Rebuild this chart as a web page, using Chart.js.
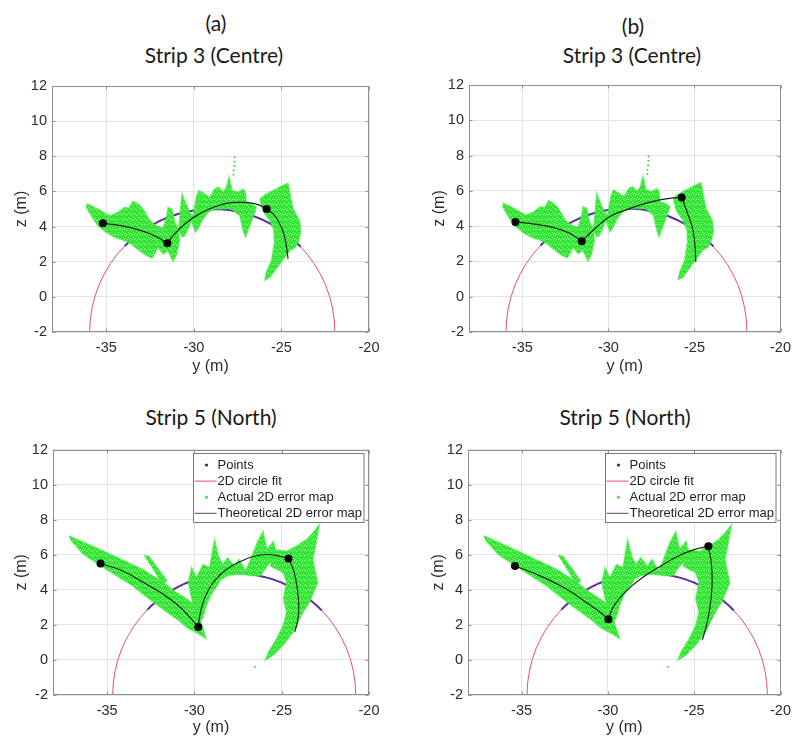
<!DOCTYPE html>
<html>
<head>
<meta charset="utf-8">
<script src="https://cdn.jsdelivr.net/npm/chart.js@4.4.1/dist/chart.umd.min.js"></script>
<style>
  html, body { margin: 0; padding: 0; background: #fff; }
  #page { position: relative; width: 798px; height: 740px; overflow: hidden; background: #fff; }
  #page canvas { position: absolute; }
  .title { position: absolute; width: 240px; text-align: center; font-family: Lato, "Noto Sans", sans-serif;
           font-size: 21px; line-height: 26px; color: #1a1a1a; white-space: nowrap; }
</style>
</head>
<body>
<div id="page">
  <div class="title" style="left:96px; top:10px;">(a)</div>
  <div class="title" style="left:513px; top:13px;">(b)</div>
  <div class="title" style="left:94px; top:42px;">Strip 3 (Centre)</div>
  <div class="title" style="left:512px; top:42px;">Strip 3 (Centre)</div>
  <div class="title" style="left:91px; top:404px;">Strip 5 (North)</div>
  <div class="title" style="left:505px; top:404px;">Strip 5 (North)</div>
  <canvas id="chartA" width="399" height="310" style="left:0; top:70px;"></canvas>
  <canvas id="chartB" width="399" height="310" style="left:399px; top:70px;"></canvas>
  <canvas id="chartC" width="399" height="304" style="left:0; top:436px;"></canvas>
  <canvas id="chartD" width="399" height="304" style="left:399px; top:436px;"></canvas>
</div>
<script>
// axes
const yTickValues = [-35, -30, -25, -20];
const zTickValues = [-2, 0, 2, 4, 6, 8, 10, 12];
const yRange = [-38.1, -20];
const zRange = [-2, 12];

const legendLabels = ['Points', '2D circle fit', 'Actual 2D error map', 'Theoretical 2D error map'];

// 2D circle fits: [centre y, centre z, radius]
const strip3CircleFit = [-28.95, -2, 7];
const strip5CircleFit = [-27.72, -2, 6.96];

// points lying on the fitted circle (y, z)
const strip3Points = [
  [-33.95, 2.90], [-33.5, 3.32], [-33.0, 3.71], [-32.5, 4.03], [-32.0, 4.30], [-31.5, 4.52],
  [-31.0, 4.69], [-30.5, 4.83], [-30.0, 4.92], [-29.5, 4.98], [-29.0, 5.00], [-28.5, 4.99],
  [-28.0, 4.94], [-27.5, 4.85], [-27.0, 4.72], [-26.5, 4.56], [-26.0, 4.35], [-25.5, 4.09],
  [-25.0, 3.78], [-24.5, 3.40], [-24.0, 2.95], [-23.9, 2.85]
];
const strip5Points = [
  [-32.7, 2.86], [-32.5, 3.06], [-32.0, 3.49], [-31.5, 3.84], [-31.0, 4.14], [-30.5, 4.38],
  [-30.0, 4.58], [-29.5, 4.73], [-29.0, 4.84], [-28.5, 4.92], [-28.0, 4.95], [-27.5, 4.96],
  [-27.0, 4.92], [-26.5, 4.85], [-26.0, 4.74], [-25.5, 4.60], [-25.0, 4.41], [-24.5, 4.17],
  [-24.0, 3.88], [-23.5, 3.53], [-23.0, 3.11], [-22.7, 2.82]
];

// actual 2D error map, outlines of the point clouds (y, z)
const strip3ErrorMap = [
  [[-36.14, 5.32], [-35.48, 5.0], [-34.81, 4.62], [-34.33, 4.81], [-33.95, 5.10], [-33.70, 5.05],
   [-33.48, 5.44], [-33.19, 5.29], [-32.90, 5.0], [-32.52, 4.34], [-32.14, 4.05], [-31.76, 3.92],
   [-31.55, 4.60], [-31.48, 5.10], [-31.25, 5.0], [-31.10, 4.24], [-30.90, 3.92], [-30.81, 3.20],
   [-31.0, 2.35], [-31.19, 2.02], [-31.48, 2.63], [-31.76, 2.44], [-32.05, 2.82], [-32.24, 2.44],
   [-32.39, 2.21], [-32.71, 2.35], [-33.10, 2.63], [-33.57, 3.01], [-33.95, 3.20], [-34.52, 3.39],
   [-35.0, 3.67], [-35.48, 4.05], [-35.86, 4.62], [-36.14, 5.10]],
  [[-30.87, 3.77], [-30.75, 5.10], [-30.68, 5.86], [-30.49, 5.38], [-30.24, 4.81], [-30.05, 4.62],
   [-29.86, 5.67], [-29.72, 6.05], [-29.38, 5.86], [-29.10, 5.67], [-28.81, 6.14], [-28.58, 6.24],
   [-28.33, 5.95], [-28.14, 6.24], [-27.99, 6.84], [-27.82, 6.05], [-27.48, 5.95], [-27.19, 6.14],
   [-27.06, 5.95], [-27.0, 5.38], [-26.71, 5.29], [-26.43, 5.10], [-26.52, 4.81], [-26.81, 4.05],
   [-27.06, 3.39], [-27.19, 3.77], [-27.38, 4.62], [-27.86, 5.0], [-28.43, 5.0], [-28.81, 5.0],
   [-29.19, 4.81], [-29.48, 4.43], [-29.67, 4.05], [-29.91, 3.67], [-30.14, 4.34], [-30.33, 3.86],
   [-30.52, 3.48], [-30.71, 3.39]],
  [[-26.24, 5.57], [-25.86, 5.86], [-25.48, 6.05], [-25.10, 6.24], [-24.81, 6.39], [-24.62, 6.46],
   [-24.47, 5.67], [-24.33, 5.0], [-23.95, 4.30], [-23.90, 3.70], [-24.01, 3.20], [-24.20, 2.82],
   [-24.52, 2.63], [-24.81, 2.25], [-25.10, 1.87], [-25.38, 1.49], [-25.67, 1.11], [-25.95, 0.96],
   [-25.86, 1.40], [-25.57, 2.06], [-25.48, 2.63], [-25.38, 3.20], [-25.42, 3.77], [-25.67, 4.34],
   [-25.95, 4.72], [-26.14, 5.10]]
];
const strip3Outliers = [[-27.67, 7.95], [-27.68, 7.7], [-27.7, 7.45], [-27.72, 7.2], [-27.74, 6.95]];

const strip5ErrorMap = [
  [[-37.20, 7.09], [-35.60, 6.39], [-34.10, 5.70], [-32.97, 5.17], [-32.22, 4.70], [-31.66, 4.33],
   [-31.10, 3.89], [-30.44, 3.48], [-29.97, 3.11], [-29.32, 1.23], [-29.78, 1.51], [-30.35, 1.79],
   [-30.91, 2.26], [-32.22, 3.20], [-33.54, 4.23], [-35.04, 5.17], [-36.35, 6.02], [-37.10, 6.86]],
  [[-32.88, 5.96], [-32.60, 5.92], [-31.57, 4.52], [-31.85, 4.33]],
  [[-30.07, 3.11], [-30.35, 4.42], [-30.16, 5.27], [-29.88, 4.70], [-29.50, 5.45], [-29.13, 5.27],
   [-28.85, 6.86], [-28.62, 5.92], [-28.38, 5.45], [-28.10, 5.83], [-27.72, 5.36], [-27.44, 5.74],
   [-27.06, 5.08], [-26.78, 5.74], [-26.41, 6.68], [-26.07, 7.33], [-25.84, 6.30], [-25.47, 6.77],
   [-25.28, 5.92], [-25.84, 5.36], [-26.22, 4.80], [-26.78, 4.80], [-27.16, 4.89], [-27.63, 4.89],
   [-28.10, 4.80], [-28.47, 4.61], [-28.75, 4.14], [-29.03, 3.76], [-29.32, 3.11], [-29.50, 2.45],
   [-29.78, 1.98]],
  [[-25.47, 6.30], [-24.72, 6.21], [-24.16, 6.49], [-23.59, 6.86], [-23.22, 7.24], [-22.84, 7.71],
   [-23.03, 6.68], [-23.22, 5.74], [-22.94, 4.42], [-23.41, 3.29], [-23.78, 2.73], [-24.34, 1.60],
   [-24.91, 0.85], [-25.47, 0.29], [-25.94, 0.0], [-25.75, 0.47], [-25.28, 1.23], [-24.91, 1.98],
   [-24.72, 2.73], [-24.91, 3.48], [-24.72, 4.42], [-24.91, 4.98], [-25.28, 5.17], [-25.66, 5.36]]
];
const strip5Outliers = [[-26.53, -0.39]];

// theoretical 2D error map, one curve between each pair of stations
const strip3aTheory = [
  [[-35.19, 4.19], [-34.14, 4.05], [-33.0, 3.77], [-32.24, 3.48], [-31.51, 3.05]],
  [[-31.51, 3.05], [-31.10, 3.58], [-30.52, 4.15], [-29.76, 4.68], [-28.81, 5.13], [-27.86, 5.36],
   [-26.90, 5.36], [-26.33, 5.25], [-25.84, 5.0]],
  [[-25.84, 5.0], [-25.38, 4.62], [-25.0, 3.96], [-24.77, 3.20], [-24.62, 2.16]]
];
const strip3bTheory = [
  [[-35.40, 4.24], [-34.30, 4.11], [-33.16, 3.92], [-32.22, 3.58], [-31.55, 3.15]],
  [[-31.55, 3.15], [-30.89, 3.77], [-29.94, 4.53], [-29.0, 4.91], [-28.05, 5.23], [-27.10, 5.47],
   [-26.34, 5.59], [-25.74, 5.63]],
  [[-25.74, 5.63], [-25.40, 4.72], [-25.11, 3.87], [-24.98, 3.01], [-24.92, 1.97]]
];
const strip5aTheory = [
  [[-35.38, 5.51], [-34.10, 5.08], [-32.60, 4.23], [-31.66, 3.67], [-30.72, 2.92], [-29.78, 1.88]],
  [[-29.78, 1.88], [-29.69, 2.54], [-29.50, 3.29], [-29.22, 3.95], [-28.85, 4.52], [-28.28, 5.08],
   [-27.53, 5.55], [-26.59, 5.92], [-25.84, 6.02], [-25.10, 5.92], [-24.61, 5.79]],
  [[-24.61, 5.79], [-24.31, 5.08], [-24.10, 4.05], [-24.02, 2.92], [-24.10, 2.17], [-24.25, 1.60]]
];
const strip5bTheory = [
  [[-35.38, 5.36], [-33.92, 4.80], [-32.40, 4.05], [-31.26, 3.29], [-30.50, 2.77], [-29.97, 2.32]],
  [[-29.97, 2.32], [-29.74, 2.92], [-29.27, 3.58], [-28.61, 4.23], [-27.85, 4.80], [-27.09, 5.27],
   [-25.95, 5.92], [-25.0, 6.30], [-24.18, 6.49]],
  [[-24.18, 6.49], [-24.01, 5.55], [-23.96, 4.42], [-24.05, 3.29], [-24.24, 2.17], [-24.53, 1.13]]
];

// scanner stations (black dots)
const strip3aStations = [[-35.19, 4.19], [-31.51, 3.05], [-25.84, 5.0]];
const strip3bStations = [[-35.40, 4.24], [-31.55, 3.15], [-25.74, 5.63]];
const strip5aStations = [[-35.38, 5.51], [-29.78, 1.88], [-24.61, 5.79]];
const strip5bStations = [[-35.38, 5.36], [-29.97, 2.32], [-24.18, 6.49]];

const GREEN = 'rgb(44, 232, 44)';
const GREEN_EDGE = 'rgba(60, 232, 60, 0.55)';
const CIRCLE_RED = '#e8506e';
const POINTS_PURPLE = '#5b2fa8';
const THEORY_DARK = '#162a16';
const AXIS_GREY = '#8f8f8f';
const TEXT_DARK = '#2b2b2b';
const FONT = '"Liberation Sans", Arial, sans-serif';

// speckled fill so the error map reads as a dense point cloud
function cloudPattern() {
  const c = document.createElement('canvas');
  c.width = 5; c.height = 5;
  const g = c.getContext('2d');
  g.fillStyle = GREEN;
  g.fillRect(0, 0, 5, 5);
  g.fillStyle = 'rgba(175, 248, 175, 0.9)';
  [[1, 0], [3, 2], [0, 3], [4, 4], [2, 4]].forEach(([x, y]) => g.fillRect(x, y, 1, 1));
  return g.createPattern(c, 'repeat');
}

const toXY = pairs => pairs.map(([y, z]) => ({ x: y, y: z }));

function buildDatasets(p, fill) {
  const sets = [];
  sets.push({ data: toXY(p.stations), showLine: false, pointRadius: 4, pointBackgroundColor: '#000',
              pointBorderColor: '#000', pointBorderWidth: 0, order: 0 });
  p.theory.forEach(seg => sets.push({ data: toXY(seg), showLine: true, borderColor: THEORY_DARK,
              borderWidth: 1.2, tension: 0.4, pointRadius: 0, order: 1 }));
  p.errorMap.forEach(poly => sets.push({ data: toXY(poly), showLine: true, fill: 'shape',
              backgroundColor: fill, borderColor: GREEN_EDGE, borderWidth: 1.5, tension: 0, pointRadius: 0, order: 2 }));
  sets.push({ data: toXY(p.outliers), showLine: false, pointRadius: 1, pointBackgroundColor: GREEN,
              pointBorderWidth: 0, order: 2 });
  sets.push({ data: toXY(p.points), showLine: true, borderColor: POINTS_PURPLE, borderWidth: 2,
              tension: 0, pointRadius: 0, order: 3 });
  return sets;
}

// circle fit under the data, axes box, inner ticks and the legend on top
const figurePlugin = {
  id: 'figure',
  beforeDatasetsDraw(chart, args, opts) {
    const { ctx, chartArea: a, scales: { x, y } } = chart;
    const [cy, cz, r] = opts.circle;
    const px = x.getPixelForValue(cy), pz = y.getPixelForValue(cz);
    const rx = Math.abs(x.getPixelForValue(cy + r) - px);
    const rz = Math.abs(y.getPixelForValue(cz + r) - pz);
    ctx.save();
    ctx.beginPath();
    ctx.rect(a.left, a.top, a.right - a.left, a.bottom - a.top);
    ctx.clip();
    ctx.beginPath();
    ctx.ellipse(px, pz, rx, rz, 0, 0, 2 * Math.PI);
    ctx.strokeStyle = CIRCLE_RED;
    ctx.lineWidth = 1;
    ctx.stroke();
    ctx.restore();
  },
  afterDraw(chart, args, opts) {
    const { ctx, chartArea: a, scales: { x, y } } = chart;
    const L = Math.round(a.left) + 0.5, R = Math.round(a.right) - 0.5;
    const T = Math.round(a.top) + 0.5, B = Math.round(a.bottom) - 0.5;
    ctx.save();
    ctx.strokeStyle = AXIS_GREY;
    ctx.lineWidth = 1;
    ctx.strokeRect(L, T, R - L, B - T);
    ctx.beginPath();
    yTickValues.forEach(v => {
      const px = Math.round(x.getPixelForValue(v)) + 0.5;
      ctx.moveTo(px, B); ctx.lineTo(px, B - 3);
      ctx.moveTo(px, T); ctx.lineTo(px, T + 3);
    });
    zTickValues.forEach(v => {
      const pz = Math.round(y.getPixelForValue(v)) + 0.5;
      ctx.moveTo(L, pz); ctx.lineTo(L + 3, pz);
      ctx.moveTo(R, pz); ctx.lineTo(R - 3, pz);
    });
    ctx.stroke();

    if (opts.legend) {
      const bw = 170.5, bh = 69;
      const bx = Math.round(a.right - 5.5 - bw) + 0.5, by = Math.round(a.top + 3.5) + 0.5;
      ctx.fillStyle = '#fff';
      ctx.fillRect(bx, by, bw, bh);
      ctx.strokeStyle = '#7a7a7a';
      ctx.strokeRect(bx, by, bw, bh);
      ctx.font = '13px ' + FONT;
      ctx.textBaseline = 'middle';
      ctx.textAlign = 'left';
      legendLabels.forEach((label, i) => {
        const ry = by + 11.5 + i * 16.1;
        if (i === 0 || i === 2) {
          ctx.fillStyle = i === 0 ? '#26268a' : '#5ddc5d';
          ctx.beginPath();
          ctx.arc(bx + 13, ry, 1.6, 0, 2 * Math.PI);
          ctx.fill();
        } else {
          ctx.strokeStyle = i === 1 ? CIRCLE_RED : '#3c5a3c';
          ctx.beginPath();
          ctx.moveTo(bx + 1, ry); ctx.lineTo(bx + 23, ry);
          ctx.stroke();
        }
        ctx.fillStyle = '#1e1e1e';
        ctx.fillText(label, bx + 24, ry + 0.5);
      });
    }
    ctx.restore();
  }
};

const panels = [
  { id: 'chartA', circle: strip3CircleFit, points: strip3Points, errorMap: strip3ErrorMap, outliers: strip3Outliers,
    theory: strip3aTheory, stations: strip3aStations, legend: false,
    pad: { left: 0, top: 16, right: 30, bottom: 0 }, zAxisWidth: 52, yAxisHeight: 48, zTitlePad: 12, yTitlePad: 3.4 },
  { id: 'chartB', circle: strip3CircleFit, points: strip3Points, errorMap: strip3ErrorMap, outliers: strip3Outliers,
    theory: strip3bTheory, stations: strip3bStations, legend: false,
    pad: { left: 0, top: 15, right: 11, bottom: 0 }, zAxisWidth: 70, yAxisHeight: 48, zTitlePad: 31, yTitlePad: 3.4 },
  { id: 'chartC', circle: strip5CircleFit, points: strip5Points, errorMap: strip5ErrorMap, outliers: strip5Outliers,
    theory: strip5aTheory, stations: strip5aStations, legend: true,
    pad: { left: 0, top: 13, right: 30, bottom: 0 }, zAxisWidth: 53, yAxisHeight: 45, zTitlePad: 12, yTitlePad: 2.4 },
  { id: 'chartD', circle: strip5CircleFit, points: strip5Points, errorMap: strip5ErrorMap, outliers: strip5Outliers,
    theory: strip5bTheory, stations: strip5bStations, legend: true,
    pad: { left: 0, top: 13, right: 11, bottom: 0 }, zAxisWidth: 69, yAxisHeight: 45, zTitlePad: 30, yTitlePad: 2.4 }
];

panels.forEach(p => {
  const ctx = document.getElementById(p.id).getContext('2d');
  new Chart(ctx, {
    type: 'scatter',
    data: { datasets: buildDatasets(p, cloudPattern()) },
    plugins: [figurePlugin],
    options: {
      responsive: false,
      animation: false,
      devicePixelRatio: 1,
      layout: { padding: p.pad },
      plugins: {
        legend: { display: false },
        tooltip: { enabled: false },
        figure: { circle: p.circle, legend: p.legend }
      },
      scales: {
        x: {
          type: 'linear', min: yRange[0], max: yRange[1],
          afterBuildTicks: s => { s.ticks = yTickValues.map(v => ({ value: v })); },
          afterFit: s => { s.height = p.yAxisHeight; },
          grid: { color: '#e4e4e4', drawTicks: false },
          border: { display: false },
          ticks: { padding: 7, color: TEXT_DARK, font: { family: FONT, size: 14.5 } },
          title: { display: true, text: 'y (m)', color: TEXT_DARK, font: { family: FONT, size: 16 },
                   padding: { top: 0, bottom: p.yTitlePad } }
        },
        y: {
          type: 'linear', min: zRange[0], max: zRange[1],
          afterBuildTicks: s => { s.ticks = zTickValues.map(v => ({ value: v })); },
          afterFit: s => { s.width = p.zAxisWidth; },
          grid: { color: '#e4e4e4', drawTicks: false },
          border: { display: false },
          ticks: { padding: 5, color: TEXT_DARK, font: { family: FONT, size: 14.5 } },
          title: { display: true, text: 'z (m)', color: TEXT_DARK, font: { family: FONT, size: 16 },
                   padding: { top: p.zTitlePad, bottom: 0 } }
        }
      }
    }
  });
});
</script>
</body>
</html>
